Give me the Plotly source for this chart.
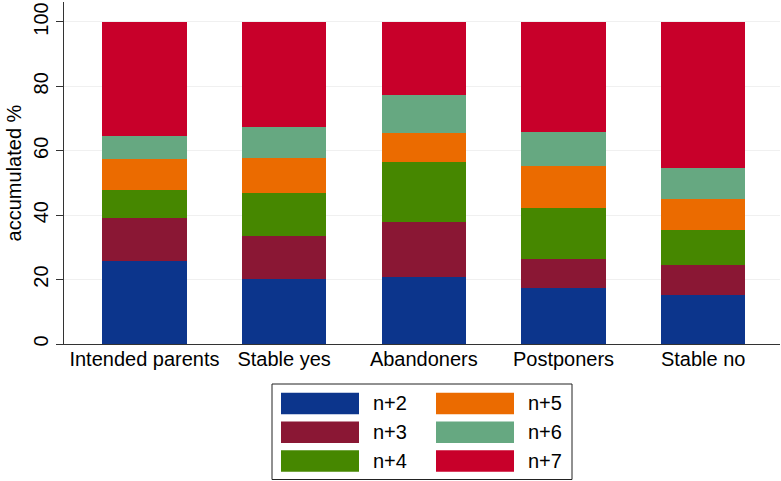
import plotly.graph_objects as go

categories = ["Intended parents", "Stable yes", "Abandoners", "Postponers", "Stable no"]
series_names = ["n+2", "n+3", "n+4", "n+5", "n+6", "n+7"]
# cumulative tops (accumulated %)
cum_n2 = [25.9, 20.1, 20.7, 17.3, 15.2]
cum_n3 = [39.0, 33.6, 37.8, 26.5, 24.6]
cum_n4 = [47.9, 46.9, 56.4, 42.1, 35.4]
cum_n5 = [57.5, 57.9, 65.6, 55.2, 45.1]
cum_n6 = [64.7, 67.4, 77.4, 65.7, 54.6]
cum_n7 = [100.0, 100.0, 100.0, 100.0, 100.0]
y_ticks = [0, 20, 40, 60, 80, 100]

colors = ["#0c358c", "#8a1734", "#468700", "#eb6b00", "#66a881", "#c8002a"]

cums = [cum_n2, cum_n3, cum_n4, cum_n5, cum_n6, cum_n7]
segments = []
prev = [0.0] * len(categories)
for c in cums:
    segments.append([round(a - b, 2) for a, b in zip(c, prev)])
    prev = c

W, H = 781, 481
L, R, T, B = 64, 1, 2, 137
pw, ph = W - L - R, H - T - B

def px(x):
    return (x - L) / pw

def py(y):
    return (H - B - y) / ph

FONT = "Liberation Sans, Arial, Helvetica, sans-serif"

fig = go.Figure()
for name, seg, col in zip(series_names, segments, colors):
    fig.add_trace(go.Bar(x=categories, y=seg, name=name, marker_color=col,
                         marker_line_width=0, width=0.605, showlegend=False))

fig.update_layout(
    width=W, height=H, barmode="stack",
    margin=dict(l=L, r=R, t=T, b=B, autoexpand=False),
    paper_bgcolor="white", plot_bgcolor="white",
    font=dict(family=FONT, size=20, color="black"),
    xaxis=dict(range=[-0.576, 4.55], showline=True, linecolor="#333333", linewidth=1,
               ticks="", showgrid=False, automargin=False, ticklabelstandoff=-3,
               tickfont=dict(size=20)),
    yaxis=dict(range=[0, 106.2], tickvals=y_ticks, ticks="outside", ticklen=7,
               tickcolor="#333333", showline=True, linecolor="#333333", linewidth=1,
               tickangle=-90, showgrid=True, gridcolor="#f0f0f0", gridwidth=1,
               zeroline=False, automargin=False, tickfont=dict(size=20),
               title=dict(text="accumulated %", font=dict(size=20), standoff=3)),
)

# custom legend (2 columns, 3 rows, column-major)
shapes = [dict(type="rect", xref="paper", yref="paper",
               x0=px(272), x1=px(572), y0=py(384), y1=py(479.5),
               line=dict(color="#222222", width=1), fillcolor="white")]
annotations = []
col_sw_x = [281, 436]
col_tx_x = [371, 526]
row_top = [392.7, 421.5, 450.3]
sw_w, sw_h = 78, 21.5
for i, (name, col) in enumerate(zip(series_names, colors)):
    c, r = divmod(i, 3)
    x0 = col_sw_x[c]
    y0 = row_top[r]
    shapes.append(dict(type="rect", xref="paper", yref="paper",
                       x0=px(x0), x1=px(x0 + sw_w), y0=py(y0), y1=py(y0 + sw_h),
                       line=dict(width=0), fillcolor=col))
    annotations.append(dict(xref="paper", yref="paper", x=px(col_tx_x[c]),
                            y=py(y0 + sw_h / 2), text=name, showarrow=False,
                            xanchor="left", yanchor="middle",
                            font=dict(size=20, family=FONT, color="black")))
fig.update_layout(shapes=shapes, annotations=annotations)

fig.write_html("out.html", config={"displayModeBar": False},
               post_script="document.body.style.margin='0';document.body.style.overflow='hidden';")
